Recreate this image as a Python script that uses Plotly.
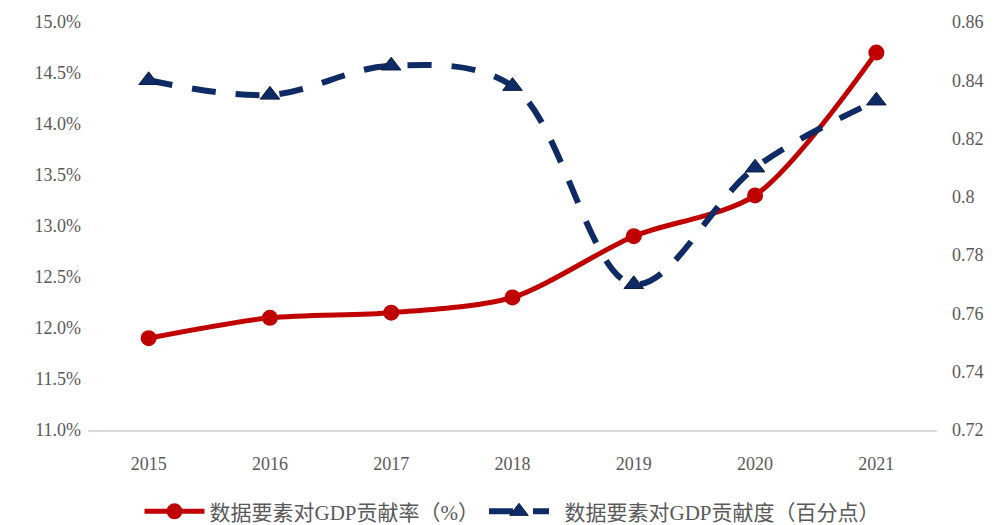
import plotly.graph_objects as go

years = ["2015", "2016", "2017", "2018", "2019", "2020", "2021"]
contribution_rate = [11.9, 12.1, 12.15, 12.3, 12.9, 13.3, 14.7]        # %
contribution_points = [0.840, 0.835, 0.845, 0.838, 0.770, 0.810, 0.833]  # percentage points

left_ticks = [11.0, 11.5, 12.0, 12.5, 13.0, 13.5, 14.0, 14.5, 15.0]
left_labels = [f"{v:.1f}%" for v in left_ticks]
right_ticks = [0.72, 0.74, 0.76, 0.78, 0.80, 0.82, 0.84, 0.86]
right_labels = ["0.72", "0.74", "0.76", "0.78", "0.8", "0.82", "0.84", "0.86"]

RED = "#C00000"
NAVY = "#0F2B66"
TICK_FONT = dict(family="Liberation Serif, Times New Roman, serif", size=18, color="#595959")

fig = go.Figure()
fig.add_trace(go.Scatter(
    x=years, y=contribution_rate, name="数据要素对GDP贡献率（%）",
    mode="lines+markers",
    line=dict(color=RED, width=5, shape="spline", smoothing=0.8),
    marker=dict(symbol="circle", size=16, color=RED),
    yaxis="y",
))
fig.add_trace(go.Scatter(
    x=years, y=contribution_points, name="  数据要素对GDP贡献度（百分点）",
    mode="lines+markers",
    line=dict(color=NAVY, width=6, dash="24px,20px", shape="spline", smoothing=1.0),
    marker=dict(symbol="triangle-up", size=17, color=NAVY,
                line=dict(color="#0a1a40", width=1)),
    yaxis="y2",
))

fig.update_layout(
    width=997, height=525,
    margin=dict(l=88, r=60, t=22, b=95, autoexpand=False),
    paper_bgcolor="white", plot_bgcolor="white",
    showlegend=True,
    legend=dict(orientation="h", x=0.5, xanchor="center", y=-0.15, yanchor="top",
                font=dict(family="Liberation Serif, Noto Sans CJK SC, serif", size=21, color="#595959"),
                itemwidth=60, traceorder="normal"),
    xaxis=dict(type="category", range=[-0.5, 6.5], showgrid=False,
               showline=True, linecolor="#d9d9d9", linewidth=2,
               ticks="", tickfont=TICK_FONT, ticklabelstandoff=16),
    yaxis=dict(range=[11.0, 15.0], tickvals=left_ticks, ticktext=left_labels,
               showgrid=False, zeroline=False, showline=False,
               tickfont=TICK_FONT, ticklabelstandoff=6),
    yaxis2=dict(range=[0.72, 0.86], tickvals=right_ticks, ticktext=right_labels,
                overlaying="y", side="right", showgrid=False, zeroline=False,
                showline=False, tickfont=TICK_FONT, ticklabelstandoff=14),
)

fig.write_html("out.html")
